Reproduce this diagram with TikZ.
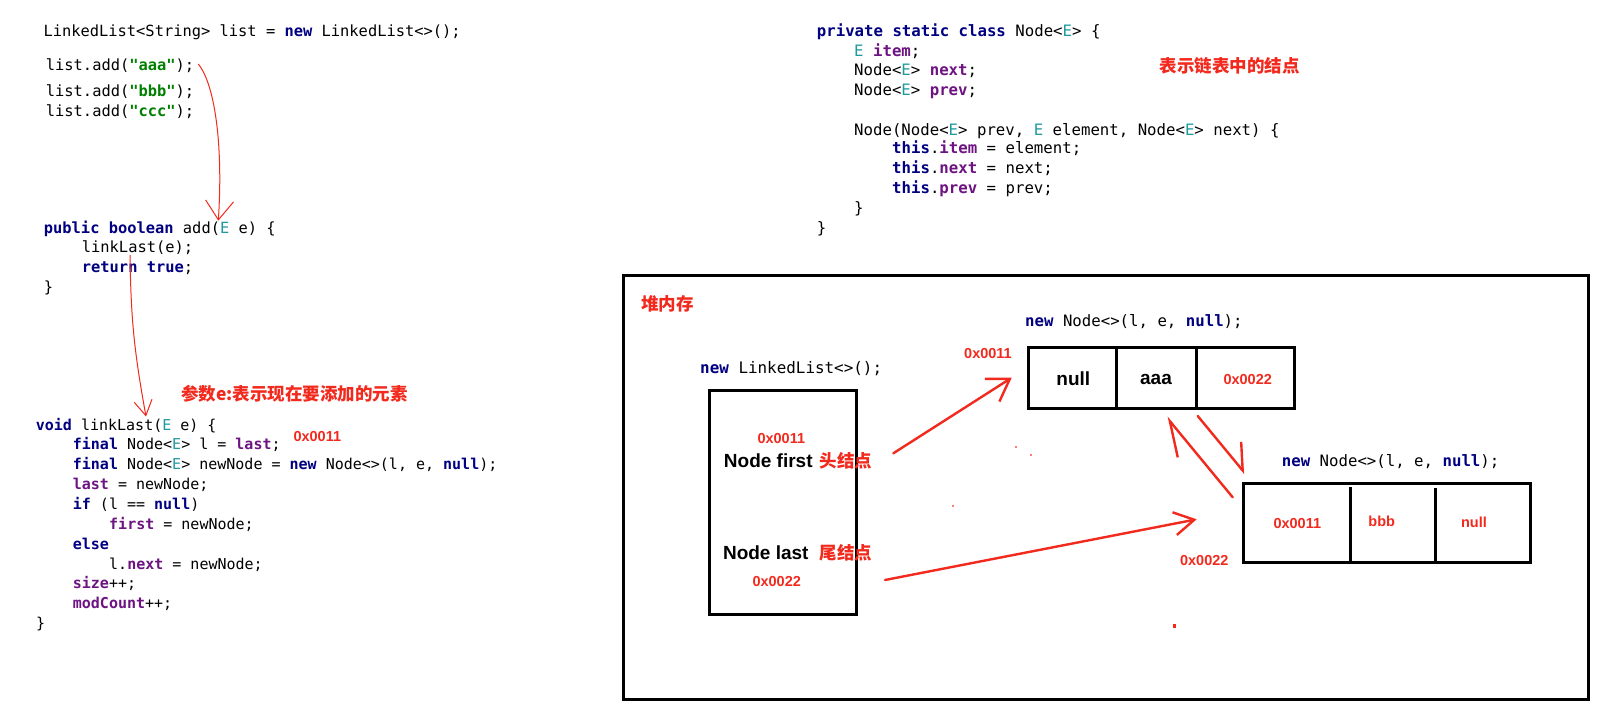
\documentclass[tikz,border=0pt]{standalone}
\usepackage{fontspec}
\usetikzlibrary{arrows.meta}
\newfontfamily\codef{DejaVu Sans Mono}[Ligatures=TeXOff]
\newfontfamily\lsans{Liberation Sans}
\newfontfamily\cjk{Noto Sans CJK SC}
\definecolor{kwc}{RGB}{0,0,128}
\definecolor{fldc}{RGB}{110,20,130}
\definecolor{tpc}{RGB}{32,153,157}
\definecolor{strc}{RGB}{0,128,0}
\definecolor{redc}{RGB}{242,42,30}
\newcommand\jkw[1]{{\color{kwc}\bfseries #1}}
\newcommand\jfl[1]{{\color{fldc}\bfseries #1}}
\newcommand\jtp[1]{{\color{tpc}#1}}
\newcommand\jst[1]{{\color{strc}\bfseries #1}}
\newcommand\cf[1]{\fontsize{#1}{#1}\selectfont\codef}
\tikzset{
  codeA/.style={anchor=base west, inner sep=0pt, font=\cf{15.4}},
  codeB/.style={anchor=base west, inner sep=0pt, font=\cf{15.0}},
  codeC/.style={anchor=base west, inner sep=0pt, font=\cf{15.7}},
  redlbl/.style={inner sep=0pt, text=redc, font=\fontsize{14.5}{16}\selectfont\lsans\bfseries},
  blklbl/.style={inner sep=0pt, text=black, font=\fontsize{19}{21}\selectfont\lsans\bfseries},
  cjklbl/.style={inner sep=0pt, text=redc, font=\fontsize{17.5}{20}\selectfont\cjk\bfseries},
  box/.style={draw=black, line width=3pt, inner sep=0pt},
  bigarrow/.style={draw=redc, line width=2.4pt, line cap=round},
  thinarrow/.style={draw=redc, line width=1pt},
}
\begin{document}
\begin{tikzpicture}[x=1pt, y=-1pt]
\useasboundingbox[fill=white] (0,0) rectangle (1600,710);

% ---------- left code ----------
\node[codeA] (c1) at (43.3,36) {LinkedList<String> list = \jkw{new} LinkedList<>();};
\node[codeA] (c2) at (45.7,70.5) {list.add(\jst{"aaa"});};
\node[codeA] (c3) at (45.7,96) {list.add(\jst{"bbb"});};
\node[codeA] (c4) at (45.7,116) {list.add(\jst{"ccc"});};
\node[codeA] (c5) at (43.7,233) {\jkw{public} \jkw{boolean} add(\jtp{E} e) \{};
\node[codeA] (c6) at (81.7,252.5) {linkLast(e);};
\node[codeA] (c7) at (81.7,272.5) {\jkw{return} \jkw{true};};
\node[codeA] (c8) at (43.7,292.5) {\}};

\node[codeB] (d1) at (35.7,430) {\jkw{void} linkLast(\jtp{E} e) \{};
\node[codeB] (d2) at (72.7,449.5) {\jkw{final} Node<\jtp{E}> l = \jfl{last};};
\node[codeB] (d3) at (72.7,469.5) {\jkw{final} Node<\jtp{E}> newNode = \jkw{new} Node<>(l, e, \jkw{null});};
\node[codeB] (d4) at (72.7,489.5) {\jfl{last} = newNode;};
\node[codeB] (d5) at (72.7,509) {\jkw{if} (l == \jkw{null})};
\node[codeB] (d6) at (109,529) {\jfl{first} = newNode;};
\node[codeB] (d7) at (72.7,549) {\jkw{else}};
\node[codeB] (d8) at (109,569) {l.\jfl{next} = newNode;};
\node[codeB] (d9) at (72.7,588) {\jfl{size}++;};
\node[codeB] (d10) at (72.7,608) {\jfl{modCount}++;};
\node[codeB] (d11) at (36,628) {\}};

\node[redlbl] (addr1) at (317.3,436) {0x0011};
\node[cjklbl] (param) at (294.7,393.3) {参数e:表示现在要添加的元素};

% hand-drawn arrows
\coordinate (h1s) at (198.3,64);
\coordinate (h1e) at (218.3,220.7);
\draw[thinarrow, -{Straight Barb[length=19pt,width=28pt,line width=1pt]}] (h1s) .. controls (216,86) and (223,150) .. (h1e);
\coordinate (h2s) at (130,255);
\coordinate (h2e) at (146,416.5);
\draw[thinarrow, -{Straight Barb[length=15pt,width=18pt,line width=1pt]}] (h2s) .. controls (131,320) and (134,350) .. (h2e);

% ---------- right code ----------
\node[codeC] (r1) at (816.7,36.5) {\jkw{private static class} Node<\jtp{E}> \{};
\node[codeC] (r2) at (854,56) {\jtp{E} \jfl{item};};
\node[codeC] (r3) at (854,75.5) {Node<\jtp{E}> \jfl{next};};
\node[codeC] (r4) at (854,95.5) {Node<\jtp{E}> \jfl{prev};};
\node[codeC] (r5) at (854,135) {Node(Node<\jtp{E}> prev, \jtp{E} element, Node<\jtp{E}> next) \{};
\node[codeC] (r6) at (892,153.5) {\jkw{this}.\jfl{item} = element;};
\node[codeC] (r7) at (892,173.5) {\jkw{this}.\jfl{next} = next;};
\node[codeC] (r8) at (892,193.5) {\jkw{this}.\jfl{prev} = prev;};
\node[codeC] (r9) at (854,213.5) {\}};
\node[codeC] (r10) at (816.7,233.5) {\}};
\node[cjklbl] (nodedesc) at (1229.8,65.7) {表示链表中的结点};

% ---------- heap ----------
\node[box, minimum width=964.8pt, minimum height=424.3pt] (heap) at (1105.9,487.15) {};
\node[cjklbl] (heaplbl) at (667.5,304) {堆内存};

\node[codeC, font=\cf{15.9}] (lltitle) at (700,373) {\jkw{new} LinkedList<>();};
\node[box, minimum width=147.4pt, minimum height=223.3pt] (ll) at (783,502.35) {};
\node[redlbl] (llA) at (781.3,438.3) {0x0011};
\node[blklbl] (first) at (768.3,460.7) {Node first};
\node[cjklbl] (firstcn) at (846,460.7) {头结点};
\node[blklbl] (last) at (765.8,552.7) {Node last};
\node[cjklbl] (lastcn) at (846,552.7) {尾结点};
\node[redlbl] (llB) at (776.7,581.7) {0x0022};

% node 1
\node[codeC] (n1title) at (1025,326) {\jkw{new} Node<>(l, e, \jkw{null});};
\node[box, minimum width=265.7pt, minimum height=61pt] (n1) at (1161.15,377.8) {};
\draw[line width=3pt] (1116.7,347.3) -- (1116.7,408.3);
\draw[line width=3pt] (1196,347.3) -- (1196,408.3);
\node[redlbl] (n1addr) at (988,353.3) {0x0011};
\node[blklbl] (n1a) at (1073.3,379) {null};
\node[blklbl] (n1b) at (1156,379) {aaa};
\node[redlbl] (n1c) at (1247.7,379) {0x0022};

% node 2
\node[codeC] (n2title) at (1281.7,466) {\jkw{new} Node<>(l, e, \jkw{null});};
\node[box, minimum width=287.4pt, minimum height=79pt] (n2) at (1387,522.8) {};
\draw[line width=3pt] (1350.7,487) -- (1350.7,564);
\draw[line width=3pt] (1435,488) -- (1435,562.3);
\node[redlbl] (n2a) at (1297.3,523.3) {0x0011};
\node[redlbl] (n2b) at (1381.7,521) {bbb};
\node[redlbl] (n2c) at (1474,522.3) {null};
\node[redlbl] (n2addr) at (1204.3,560) {0x0022};

% red arrows
\coordinate (a1s) at (893.3,453.3);
\coordinate (a1e) at (1011.7,377.7);
\draw[bigarrow, -{Straight Barb[length=21pt,width=27pt,line width=2.4pt]}] (a1s) -- (a1e);
\coordinate (a2s) at (885,580);
\coordinate (a2e) at (1196.7,519.3);
\draw[bigarrow, -{Straight Barb[length=20pt,width=23pt,line width=2.4pt]}] (a2s) -- (a2e);
\coordinate (a3s) at (1197.7,416);
\coordinate (a3e) at (1245,473.3);
\draw[bigarrow, -{Straight Barb[harpoon,length=23pt,width=34pt,line width=2.4pt]}] (a3s) -- (a3e);
\coordinate (a4s) at (1232.7,497.3);
\coordinate (a4e) at (1166.7,417.3);
\draw[bigarrow, -{Straight Barb[harpoon,length=33pt,width=34pt,line width=2.4pt]}] (a4s) -- (a4e);

% stray marks
\fill[redc!60] (1015,446) rectangle (1017,448);
\fill[redc!60] (1030,453.5) rectangle (1032,455.5);
\fill[redc!60] (951.5,505) rectangle (953.5,507);
\fill[redc] (1173.3,623.5) rectangle (1175.5,628);
\end{tikzpicture}
\end{document}
